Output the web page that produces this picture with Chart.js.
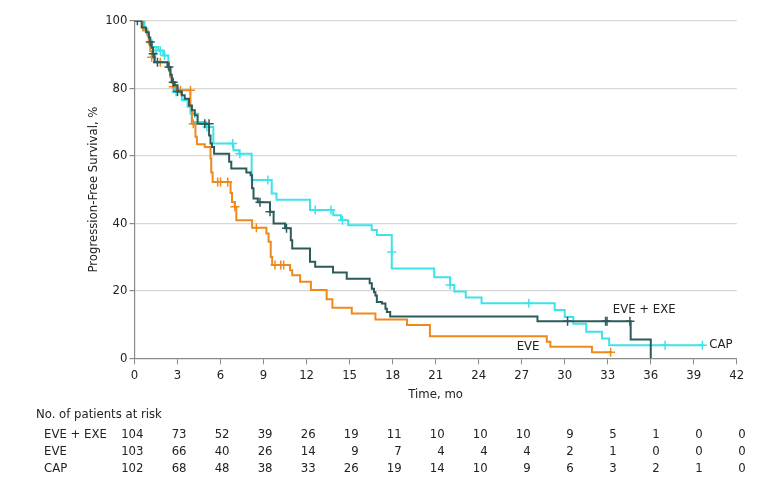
<!DOCTYPE html>
<html>
<head>
<meta charset="utf-8">
<script src="https://cdn.jsdelivr.net/npm/chart.js@4"></script>
<style>
html,body{margin:0;padding:0;background:#fff;}
#wrap{width:780px;height:485px;}
</style>
</head>
<body>
<div id="wrap"><canvas id="c" width="780" height="485"></canvas></div>
<script>
// ---- Data ----
const timeTicks = [0,3,6,9,12,15,18,21,24,27,30,33,36,39,42];
const riskEveExe = [104,73,52,39,26,19,11,10,10,10,9,5,1,0,0];
const riskEve    = [103,66,40,26,14,9,7,4,4,4,2,1,0,0,0];
const riskCap    = [102,68,48,38,33,26,19,14,10,9,6,3,2,1,0];
const seriesNames = ["EVE + EXE","EVE","CAP"];

const eveExeTimes = [0,0.5,0.8,1.0,1.1,1.2,1.3,1.4,2.3,2.5,2.6,2.8,3.0,3.3,3.5,3.8,4.0,4.2,4.4,5.2,5.3,5.4,5.55,6.6,6.75,7.8,8.1,8.2,8.3,8.6,9.45,9.7,10.5,10.9,11.0,12.24,12.6,13.84,14.8,16.4,16.55,16.7,16.8,16.9,17.25,17.5,17.6,17.83,28.1,34.6,36.0];
const eveExeSurv  = [100,98,96.6,95,93.7,92,90.2,87.7,86.3,84,81.8,80.9,79,77.9,76.9,74.9,73.5,72,69.5,66,63.6,62.6,60.6,58.2,56.2,55,54.2,50.4,47.3,46.2,43.4,39.9,38.5,35,32.5,28.6,27.1,25.4,23.6,22.2,20.6,19.6,18.6,16.7,16.2,14.7,13.7,12.4,11.0,5.6,0];
const eveExeCensT = [0.2,1.1,1.3,1.6,2.4,2.7,3.0,4.9,5.2,8.75,9.45,10.6,30.2,32.85,32.95,34.55];
const eveExeCensS = [100,93.7,90.2,87.7,86.3,81.8,79,69.5,69.5,46.2,43.4,38.5,11.0,11.0,11.0,11.0];

const eveTimes = [0,0.6,0.9,1.0,1.1,1.2,1.4,2.4,2.5,2.6,2.7,2.9,3.9,4.0,4.25,4.35,4.9,5.3,5.35,5.45,6.7,6.8,7.0,7.1,8.2,9.2,9.35,9.5,9.6,10.85,11.0,11.55,12.3,13.4,13.8,15.15,16.8,19.0,20.6,28.75,29.0,31.9,33.3];
const eveSurv  = [100,97.1,95.6,93,91,89.2,87.7,85.8,83.3,81.8,80.4,79.4,74.5,69.5,65.6,63.4,62.6,59.2,55,52.2,49,46.3,44.9,40.9,38.7,37,34.5,30,27.6,26.1,24.6,22.7,20.2,17.5,15.0,13.3,11.5,9.85,6.5,4.9,3.4,1.8,1.8];
const eveCensT = [1.2,1.8,2.7,3.2,3.9,4.1,5.8,6.0,6.5,7.0,8.5,9.8,10.2,10.4,33.2];
const eveCensS = [89.2,87.7,80.4,79.4,79.4,69.5,52.2,52.2,52.2,44.9,38.7,27.6,27.6,27.6,1.8];

const capTimes = [0,0.7,0.9,1.0,1.2,1.66,2.0,2.36,2.5,2.6,2.8,3.3,3.7,3.9,4.0,5.0,5.5,6.9,7.3,8.17,9.57,9.9,12.24,13.86,14.4,14.9,16.54,16.9,17.94,20.9,22.0,22.3,23.1,24.2,29.3,30.0,30.6,31.5,32.6,33.1,39.7];
const capSurv  = [100,97.6,96.1,94.2,92.2,91.2,89.7,85.8,83.8,81.8,78.9,76.5,74.5,72.5,70,68.5,63.6,61.6,60.6,52.8,48.8,47,43.9,42.4,40.9,39.4,38,36.5,26.6,24,21.7,19.8,18,16.3,14.3,12.2,10.2,7.9,5.9,3.9,3.9];
const capCensT = [1.5,1.8,2.1,2.9,4.2,5.05,6.85,7.35,9.3,12.6,13.7,14.5,17.94,22.0,27.5,37.0,39.6];
const capCensS = [91.2,91.2,89.7,78.9,72.5,68.5,63.6,60.6,52.8,43.9,43.9,40.9,31.5,21.7,16.3,3.9,3.9];

// label anchors (data units)
const labelPos = [[33.35,14.3],[26.65,3.4],[40.08,4.1]];

const colDark = '#2d5a5a', colOrange = '#f0891c', colCyan = '#3ee2ea';
const FONT = "'DejaVu Sans Condensed', 'DejaVu Sans', sans-serif";

function pts(t, s){ return t.map((v,i)=>({x:v,y:s[i]})); }

function lineDs(label, t, s, color, order){
  return {type:'line', label, data:pts(t,s), stepped:'before', borderColor:color, borderWidth:2,
    pointRadius:0, fill:false, order, tension:0};
}
function censDs(label, t, s, color, order){
  return {type:'scatter', label, data:pts(t,s), pointStyle:'cross', pointRadius:4.5,
    borderColor:color, borderWidth:1.5, backgroundColor:color, showLine:false, order};
}

const tablePlugin = {
  id:'riskTable',
  afterDraw(chart){
    const ctx = chart.ctx, xs = chart.scales.x, ys = chart.scales.y;
    ctx.save();
    ctx.fillStyle = '#222';
    ctx.textBaseline = 'middle';
    ctx.font = "13px " + FONT;
    ctx.textAlign = 'left';
    seriesNames.forEach((n,i)=>{
      ctx.fillText(n, xs.getPixelForValue(labelPos[i][0]), ys.getPixelForValue(labelPos[i][1]));
    });
    ctx.fillText('No. of patients at risk', 36, 415);
    const rows = [riskEveExe, riskEve, riskCap];
    const rowY = [435, 452, 469];
    rows.forEach((r,ri)=>{
      ctx.textAlign = 'left';
      ctx.fillText(seriesNames[ri], 44, rowY[ri]);
      ctx.textAlign = 'right';
      r.forEach((v,i)=>{
        ctx.fillText(String(v), xs.getPixelForValue(timeTicks[i]) + 9, rowY[ri]);
      });
    });
    ctx.restore();
  }
};

new Chart(document.getElementById('c'), {
  data:{datasets:[
    lineDs('EVE + EXE', eveExeTimes, eveExeSurv, colDark, 1),
    censDs('EVE + EXE censored', eveExeCensT, eveExeCensS, colDark, 1),
    lineDs('EVE', eveTimes, eveSurv, colOrange, 2),
    censDs('EVE censored', eveCensT, eveCensS, colOrange, 2),
    lineDs('CAP', capTimes, capSurv, colCyan, 3),
    censDs('CAP censored', capCensT, capCensS, colCyan, 3)
  ]},
  options:{
    responsive:false, animation:false, devicePixelRatio:1,
    layout:{padding:{left:82, right:43.2, top:20.7, bottom:78.7}},
    plugins:{legend:{display:false}, tooltip:{enabled:false}},
    scales:{
      x:{type:'linear', min:0, max:42,
        afterFit(s){ s.height = 48; },
        afterBuildTicks(s){ s.ticks = timeTicks.map(v=>({value:v})); },
        ticks:{color:'#222', font:{family:FONT, size:13}, padding:4, maxRotation:0, autoSkip:false},
        grid:{drawOnChartArea:false, tickLength:6, tickColor:'#8a8a8a', tickWidth:1},
        border:{color:'#8a8a8a', width:1.2},
        title:{display:true, text:'Time, mo', color:'#222', font:{family:FONT, size:13}, padding:{top:4,bottom:4}}
      },
      y:{type:'linear', min:0, max:100,
        afterFit(s){ s.width = 52.5; },
        ticks:{stepSize:20, color:'#222', font:{family:FONT, size:13}, padding:2},
        grid:{color:(c)=> c.tick && c.tick.value===0 ? 'rgba(0,0,0,0)' : '#d8d8d8', lineWidth:1.2,
              tickLength:5, tickColor:'#8a8a8a'},
        border:{color:'#8a8a8a', width:1.2},
        title:{display:true, text:'Progression-Free Survival, %', color:'#222', font:{family:FONT, size:13}, padding:{top:4,bottom:4}}
      }
    }
  },
  plugins:[tablePlugin]
});
</script>
</body>
</html>
